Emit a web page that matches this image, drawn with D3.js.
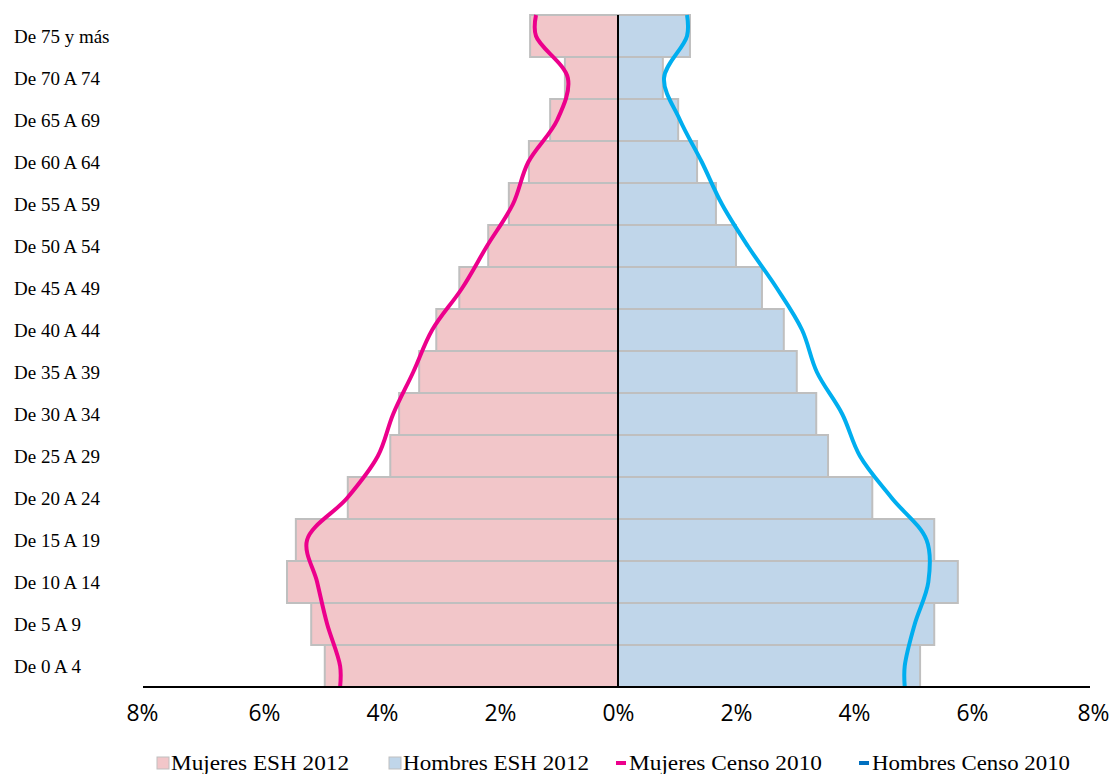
<!DOCTYPE html>
<html>
<head>
<meta charset="utf-8">
<script src="https://cdn.jsdelivr.net/npm/d3@7"></script>
<style>
  body { margin: 0; background: #fff; }
  svg { display: block; }
</style>
</head>
<body>
<div id="chart"></div>
<script>
// age groups, bottom to top
let ageGroups = ["De 0 A 4","De 5 A 9","De 10 A 14","De 15 A 19","De 20 A 24","De 25 A 29",
  "De 30 A 34","De 35 A 39","De 40 A 44","De 45 A 49","De 50 A 54","De 55 A 59",
  "De 60 A 64","De 65 A 69","De 70 A 74","De 75 y más"];

let mujeresESH = [4.97,5.20,5.61,5.46,4.58,3.86,3.71,3.37,3.08,2.69,2.20,1.85,1.51,1.15,0.90,1.49];
let hombresESH = [5.12,5.36,5.76,5.36,4.31,3.56,3.36,3.03,2.81,2.44,2.00,1.66,1.34,1.02,0.76,1.22];
let mujeresCenso = [4.71,4.93,5.10,5.27,4.59,4.07,3.81,3.47,3.15,2.64,2.22,1.78,1.52,1.03,0.85,1.39];
let hombresCenso = [4.86,5.03,5.26,5.23,4.64,4.10,3.80,3.37,3.12,2.69,2.20,1.76,1.42,1.05,0.78,1.17];

let tickValues = [-8,-6,-4,-2,0,2,4,6,8];
let legendLabels = ["Mujeres ESH 2012","Hombres ESH 2012","Mujeres Censo 2010","Hombres Censo 2010"];

let W = 1112, H = 774;
let svg = d3.select("#chart").append("svg").attr("width", W).attr("height", H);

let x = d3.scaleLinear().domain([-8, 8]).range([146, 1090]);
let y = d3.scaleBand().domain(ageGroups).range([687, 15]).padding(0);

let rows = ageGroups.map((g, i) => ({
  g: g, m: mujeresESH[i], h: hombresESH[i], mc: mujeresCenso[i], hc: hombresCenso[i]
}));

// bars
let bars = svg.append("g");
bars.selectAll(".fem").data(rows).enter().append("rect")
  .attr("x", d => x(-d.m)).attr("y", d => y(d.g))
  .attr("width", d => x(0) - x(-d.m)).attr("height", y.bandwidth())
  .attr("fill", "#F2C6C9").attr("stroke", "#BFBFBF").attr("stroke-width", 2);
bars.selectAll(".mal").data(rows).enter().append("rect")
  .attr("x", x(0)).attr("y", d => y(d.g))
  .attr("width", d => x(d.h) - x(0)).attr("height", y.bandwidth())
  .attr("fill", "#C0D6EA").attr("stroke", "#BFBFBF").attr("stroke-width", 2);

// census lines: points at band centres, held straight to the plot edges
function linePoints(vals, sign) {
  let pts = vals.map((v, i) => [x(sign * v), y(ageGroups[i]) + y.bandwidth() / 2]);
  pts.unshift([x(sign * vals[0]), y.range()[0]]);
  pts.push([x(sign * vals[vals.length - 1]), y.range()[1]]);
  return pts;
}
let line = d3.line().curve(d3.curveCatmullRom.alpha(0.5));
svg.append("path").attr("d", line(linePoints(mujeresCenso, -1)))
  .attr("fill", "none").attr("stroke", "#EC008C").attr("stroke-width", 4);
svg.append("path").attr("d", line(linePoints(hombresCenso, 1)))
  .attr("fill", "none").attr("stroke", "#00AEEF").attr("stroke-width", 4);

// centre line
svg.append("line").attr("x1", x(0)).attr("x2", x(0)).attr("y1", 15).attr("y2", 687)
  .attr("stroke", "#000").attr("stroke-width", 2);

// x axis
let xAxis = d3.axisBottom(x).tickValues(tickValues).tickSize(0).tickPadding(17)
  .tickFormat(d => Math.abs(d) + "%");
let ax = svg.append("g").attr("transform", "translate(0,687)").call(xAxis);
ax.select(".domain").attr("d", "M143,0H1090").attr("stroke", "#000").attr("stroke-width", 2);
ax.selectAll(".tick text")
  .attr("x", d => d == -8 ? -4 : (d == 8 ? 3 : 0))
  .attr("font-family", "'Open Sans', 'Liberation Sans', Arial")
  .attr("font-size", 24).attr("fill", "#000")
  .attr("textLength", 32).attr("lengthAdjust", "spacingAndGlyphs");

// y labels
svg.append("g").selectAll("text").data(ageGroups).enter().append("text")
  .attr("x", 14).attr("y", d => y(d) + y.bandwidth() / 2)
  .attr("dy", "0.35em")
  .attr("font-family", "'Liberation Serif', 'Times New Roman', serif")
  .attr("font-size", 19).attr("fill", "#000")
  .text(d => d);

// legend
let legendX = [157, 389, 615, 858];
let legendColors = ["#F2C6C9", "#C0D6EA", "#EC008C", "#0070C0"];
let leg = svg.append("g").selectAll("g").data(legendLabels).enter().append("g")
  .attr("transform", (d, i) => "translate(" + legendX[i] + ",763)");
leg.append("rect")
  .attr("x", (d, i) => i < 2 ? 0 : 1)
  .attr("y", (d, i) => i < 2 ? -6 : -2)
  .attr("width", (d, i) => i < 2 ? 12 : 10)
  .attr("height", (d, i) => i < 2 ? 12 : 4)
  .attr("fill", (d, i) => legendColors[i])
  .attr("stroke", (d, i) => i < 2 ? "#BFBFBF" : "none");
leg.append("text").attr("x", 14).attr("dy", "0.35em")
  .attr("font-family", "'Liberation Serif', 'Times New Roman', serif")
  .attr("font-size", 20).attr("fill", "#000")
  .attr("textLength", (d, i) => [178, 186, 193, 198][i])
  .attr("lengthAdjust", "spacingAndGlyphs")
  .text(d => d);
</script>
</body>
</html>
